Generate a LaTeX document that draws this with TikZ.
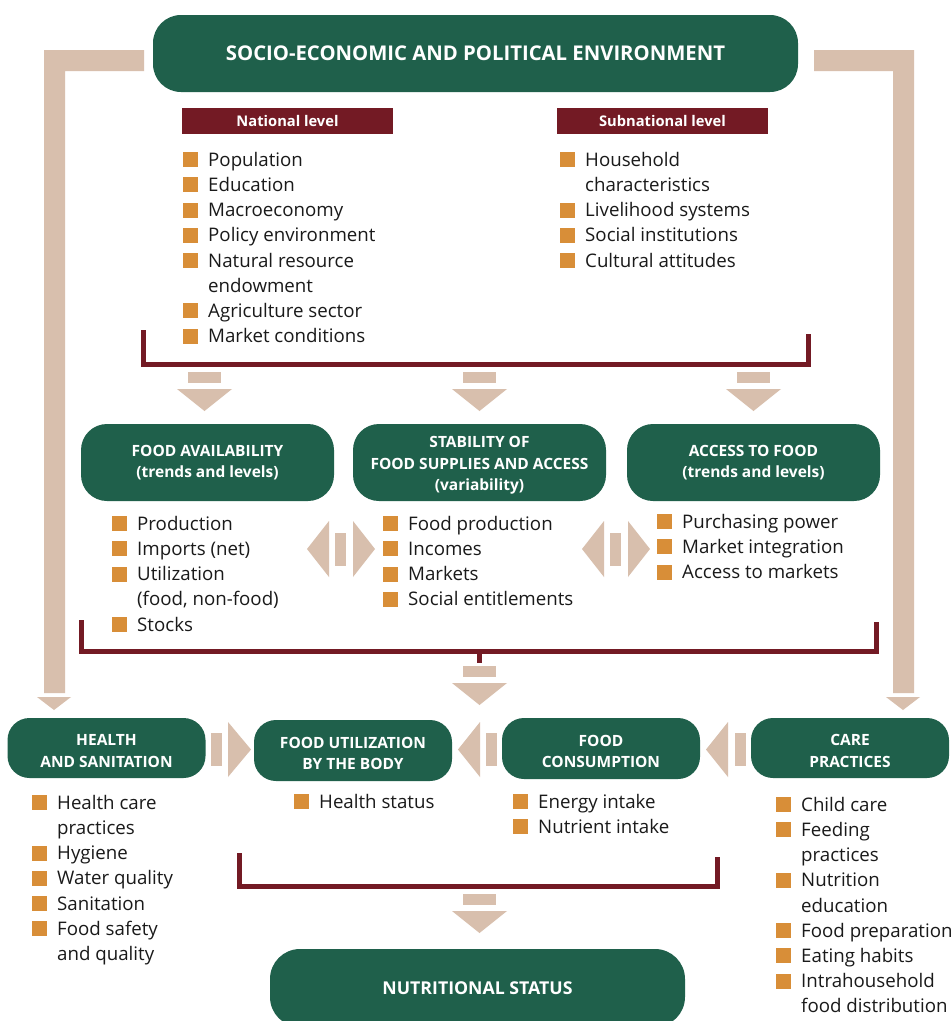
\documentclass[tikz,border=0pt]{standalone}
\usepackage{fontspec}
\setmainfont{Open Sans}
\definecolor{fgreen}{HTML}{1F604B}
\definecolor{dred}{HTML}{731A24}
\definecolor{sqorange}{HTML}{D88E38}
\definecolor{beige}{HTML}{D8BFAD}
\definecolor{txt}{HTML}{1A1A1A}
\newcommand\sq{\textcolor{sqorange}{\rule[-1pt]{15pt}{15pt}}\hspace{10pt}}
\newcommand\ind{\hspace*{25pt}}
\newcommand\lift{\rule{0pt}{17pt}}
\newcommand\darr[2]{%
  \fill[arrfill] (#1-16.5,#2) rectangle (#1+16.5,#2+11);
  \fill[arrfill] (#1-27.5,#2+17) -- (#1+27.5,#2+17) -- (#1,#2+39) -- cycle;}
\begin{document}
\begin{tikzpicture}[x=1pt,y=-1pt,
  gbox/.style={fill=fgreen, rounded corners=26pt, text=white, align=center, inner sep=0pt,
    font=\bfseries\fontsize{15.5}{20.5}\selectfont, minimum width=253pt, minimum height=77pt},
  sbox/.style={gbox, rounded corners=22pt, minimum width=198pt, minimum height=60pt,
    font=\bfseries\fontsize{15.5}{21.5}\selectfont},
  hdr/.style={fill=dred, text=white, inner sep=0pt, minimum width=211pt, minimum height=26pt,
    font=\bfseries\fontsize{14.7}{16}\selectfont},
  lst/.style={anchor=north west, inner sep=0pt, align=left, text=txt,
    font=\fontsize{18.7}{25.2}\selectfont},
  bk/.style={draw=dred, line width=5pt},
  arrfill/.style={fill=beige}]
\clip (0,0) rectangle (952,1021);
\fill[white] (0,0) rectangle (952,1021);
% side L arrows
\fill[arrfill] (144,50) -- (44,50) -- (44,693) -- (65,693) -- (65,71) -- (144,71) -- cycle;
\fill[arrfill] (37,697) -- (71,697) -- (54,710) -- cycle;
\fill[arrfill] (814,50) -- (914,50) -- (914,693) -- (893,693) -- (893,71) -- (814,71) -- cycle;
\fill[arrfill] (886,697) -- (920,697) -- (903,710) -- cycle;
% top box
\node[gbox, rounded corners=28pt, minimum width=645pt, font=\bfseries\fontsize{20.3}{24}\selectfont] (env) at (475.5,53.5) {SOCIO-ECONOMIC AND POLITICAL ENVIRONMENT};
\node[hdr] (nat) at (287.5,121) {National level};
\node[hdr] (sub) at (662.5,121) {Subnational level};
\node[lst] (natl) at (183,148.4) {\strut\sq Population\\ \sq Education\\ \sq Macroeconomy\\ \sq Policy environment\\ \sq Natural resource\\ \ind endowment\\ \sq Agriculture sector\\ \sq Market conditions};
\node[lst] (subl) at (560,148.4) {\strut\sq Household\\ \ind characteristics\\ \sq Livelihood systems\\ \sq Social institutions\\ \sq Cultural attitudes};
\draw[bk] (143.5,330) -- (143.5,364.5) -- (808.5,364.5) -- (808.5,334);
\darr{204.5}{372}
\darr{479.5}{372}
\darr{753.5}{372}
% row 2
\node[gbox] (avail) at (207.5,462.5) {FOOD AVAILABILITY\\(trends and levels)};
\node[gbox, font=\bfseries\fontsize{15.5}{21.5}\selectfont] (stab) at (479.5,462.5) {\lift STABILITY OF\\FOOD SUPPLIES AND ACCESS\\(variability)};
\node[gbox] (acc) at (753.5,462.5) {ACCESS TO FOOD\\(trends and levels)};
\node[lst] (availl) at (112,512.4) {\strut\sq Production\\ \sq Imports (net)\\ \sq Utilization\\ \ind (food, non-food)\\ \sq Stocks};
\node[lst] (stabl) at (383,512.4) {\strut\sq Food production\\ \sq Incomes\\ \sq Markets\\ \sq Social entitlements};
\node[lst] (accl) at (657,510.4) {\strut\sq Purchasing power\\ \sq Market integration\\ \sq Access to markets};
% double arrows
\fill[arrfill] (329,521) -- (329,577) -- (307,549) -- cycle;
\fill[arrfill] (335,533) rectangle (346,566);
\fill[arrfill] (353,521) -- (353,577) -- (375,549) -- cycle;
\fill[arrfill] (604,521) -- (604,577) -- (582,549) -- cycle;
\fill[arrfill] (610,533) rectangle (621,566);
\fill[arrfill] (628,521) -- (628,577) -- (650,549) -- cycle;
\draw[bk] (81.5,620) -- (81.5,651) -- (876,651) -- (876,622);
\draw[bk] (479,651) -- (479,663);
\darr{479.5}{666}
% row 3
\node[sbox] (health) at (106.5,748) {\lift HEALTH\\AND SANITATION};
\node[sbox, minimum height=61pt] (util) at (353,750.5) {\lift FOOD UTILIZATION\\BY THE BODY};
\node[sbox, minimum height=61pt] (cons) at (601,748.5) {\lift FOOD\\CONSUMPTION};
\node[sbox] (care) at (850,748) {\lift CARE\\PRACTICES};
\fill[arrfill] (211,733) rectangle (222,766);
\fill[arrfill] (228,722) -- (228,777) -- (251,749.5) -- cycle;
\fill[arrfill] (480,722) -- (480,777) -- (458,749.5) -- cycle;
\fill[arrfill] (486,733) rectangle (497,766);
\fill[arrfill] (728,722) -- (728,777) -- (706,749.5) -- cycle;
\fill[arrfill] (735,733) rectangle (746,766);
\node[lst] (healthl) at (32,791.4) {\strut\sq Health care\\ \ind practices\\ \sq Hygiene\\ \sq Water quality\\ \sq Sanitation\\ \sq Food safety\\ \ind and quality};
\node[lst] (utill) at (294,790.4) {\strut\sq Health status};
\node[lst] (consl) at (513,790.4) {\strut\sq Energy intake\\ \sq Nutrient intake};
\node[lst] (carel) at (776,793.4) {\strut\sq Child care\\ \sq Feeding\\ \ind practices\\ \sq Nutrition\\ \ind education\\ \sq Food preparation\\ \sq Eating habits\\ \sq Intrahousehold\\ \ind food distribution};
\draw[bk] (239.5,853) -- (239.5,886.5) -- (717.5,886.5) -- (717.5,857);
\darr{479.5}{894}
\node[gbox, rounded corners=30pt, minimum width=415pt, minimum height=78pt, font=\bfseries\fontsize{17.7}{20}\selectfont] (nutr) at (477.5,988) {NUTRITIONAL STATUS};
\end{tikzpicture}
\end{document}
